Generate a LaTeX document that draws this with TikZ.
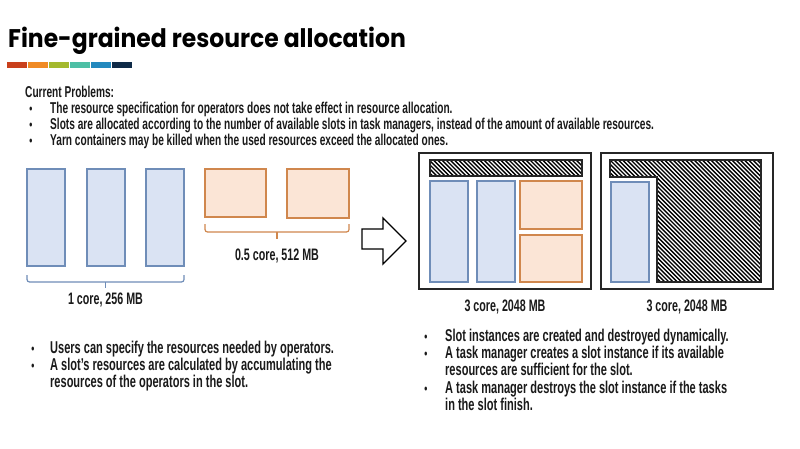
\documentclass[tikz,border=0pt]{standalone}
\usepackage{fontspec}
\setmainfont{Liberation Sans}[FakeStretch=0.645]
\newfontfamily\titlefont{Poppins}[FakeStretch=0.92]
\definecolor{bluefill}{HTML}{DAE3F3}
\definecolor{blueline}{HTML}{6F8DB8}
\definecolor{orfill}{HTML}{FBE5D6}
\definecolor{orline}{HTML}{D0874D}
\definecolor{cA}{HTML}{C9401C}
\definecolor{cB}{HTML}{F08A24}
\definecolor{cC}{HTML}{A4B92E}
\definecolor{cD}{HTML}{4DBFA5}
\definecolor{cE}{HTML}{2389BE}
\definecolor{cF}{HTML}{0E2A47}
\definecolor{txt}{HTML}{1A1A1A}
\tikzset{
  opblue/.style={draw=blueline, fill=bluefill, line width=1.2pt},
  oporange/.style={draw=orline, fill=orfill, line width=1.2pt},
  tmbox/.style={draw=black!85, line width=1.4pt},
  hatchline/.style={line width=1.4pt, black},
  hatchedge/.style={draw=black!85, line width=1.2pt},
  bracebl/.style={draw=blueline, line width=1.2pt, rounded corners=2.5pt},
  braceor/.style={draw=orline, line width=1.2pt, rounded corners=2.5pt},
  probtxt/.style={font=\bfseries\fontsize{15.7}{16}\selectfont, text=txt, anchor=base west, inner sep=0pt},
  bottxt/.style={font=\bfseries\fontsize{17.1}{17}\selectfont, text=txt, anchor=base west, inner sep=0pt},
  labtxt/.style={font=\bfseries\fontsize{16.6}{17}\selectfont, text=txt, inner sep=0pt},
  bul/.style={font=\bfseries\fontsize{13.5}{16}\selectfont, text=txt, anchor=base, inner sep=0pt},
}
\begin{document}
\begin{tikzpicture}[x=1pt,y=-1pt]
\useasboundingbox[fill=white] (0,0) rectangle (800,449);

% title
\node[anchor=base west, inner sep=0pt, font=\titlefont\bfseries\fontsize{25.5}{30}\selectfont] (title) at (8,48) {Fine-grained resource allocation};
\foreach \c [count=\k from 0] in {cA,cB,cC,cD,cE,cF}
  \fill[\c] (7+\k*21,62.5) rectangle ++(20,5.5);

% current problems
\node[probtxt] (cp) at (25,98) {Current Problems:};
\node[bul] (pb1) at (31,114) {•};
\node[probtxt] (p1) at (50,114) {The resource specification for operators does not take effect in resource allocation.};
\node[bul] (pb2) at (31,130) {•};
\node[probtxt] (p2) at (50,130) {Slots are allocated according to the number of available slots in task managers, instead of the amount of available resources.};
\node[bul] (pb3) at (31,146) {•};
\node[probtxt] (p3) at (50,146) {Yarn containers may be killed when the used resources exceed the allocated ones.};

% left operators
\draw[opblue] (27,169) rectangle (65,266);
\draw[opblue] (87,169) rectangle (125,266);
\draw[opblue] (146,169) rectangle (184,266);
\draw[oporange] (205,169) rectangle (266,217);
\draw[oporange] (287,169) rectangle (349,218);

% braces
\draw[bracebl] (27,275) |- (184,282) -- (184,275);
\draw[blueline, line width=1.2pt] (105.5,282) -- (105.5,288);
\node[labtxt] (l1) at (105.5,300) {1 core, 256 MB};
\draw[braceor] (205,224) |- (349,232) -- (349,224);
\draw[orline, line width=1.2pt] (277,232) -- (277,239);
\node[labtxt] (l2) at (277,256) {0.5 core, 512 MB};

% arrow
\draw[line width=1.4pt, black, line join=miter] (362,229) -- (383,229) -- (383,218) -- (406,241) -- (383,264) -- (383,249) -- (362,249) -- cycle;

% task manager 1
\draw[tmbox] (419,153) rectangle (591,289);
\begin{scope}
\clip (430,160) rectangle (582,176);
\foreach \i in {400,404.2,...,590} \draw[hatchline] (\i,156) -- ++(26,26);
\end{scope}
\draw[hatchedge] (430,160) rectangle (582,176);
\draw[opblue] (430,181) rectangle (468,282);
\draw[opblue] (477,181) rectangle (515,282);
\draw[oporange] (520,181) rectangle (582,229);
\draw[oporange] (520,235) rectangle (582,282);
\node[labtxt] (l3) at (505,307) {3 core, 2048 MB};

% task manager 2
\draw[tmbox] (601,153) rectangle (773,289);
\begin{scope}
\clip (610,160) -- (761,160) -- (761,282) -- (657,282) -- (657,177) -- (610,177) -- cycle;
\foreach \i in {480,484.2,...,765} \draw[hatchline] (\i,156) -- ++(130,130);
\end{scope}
\draw[hatchedge] (610,160) -- (761,160) -- (761,282) -- (657,282) -- (657,177) -- (610,177) -- cycle;
\draw[opblue] (611,182) rectangle (649,282);
\node[labtxt] (l4) at (687,307) {3 core, 2048 MB};

% bottom left text
\node[bul] (bb1) at (33,353) {•};
\node[bottxt] (b1) at (50,353) {Users can specify the resources needed by operators.};
\node[bul] (bb2) at (33,370) {•};
\node[bottxt] (b2) at (50,370) {A slot’s resources are calculated by accumulating the};
\node[bottxt] (b3) at (50,387) {resources of the operators in the slot.};

% bottom right text
\node[bul] (rb1) at (426,341) {•};
\node[bottxt] (r1) at (445,341) {Slot instances are created and destroyed dynamically.};
\node[bul] (rb2) at (426,358) {•};
\node[bottxt] (r2) at (445,358) {A task manager creates a slot instance if its available};
\node[bottxt] (r3) at (445,375) {resources are sufficient for the slot.};
\node[bul] (rb3) at (426,393) {•};
\node[bottxt] (r4) at (445,393) {A task manager destroys the slot instance if the tasks};
\node[bottxt] (r5) at (445,410) {in the slot finish.};
\end{tikzpicture}
\end{document}
